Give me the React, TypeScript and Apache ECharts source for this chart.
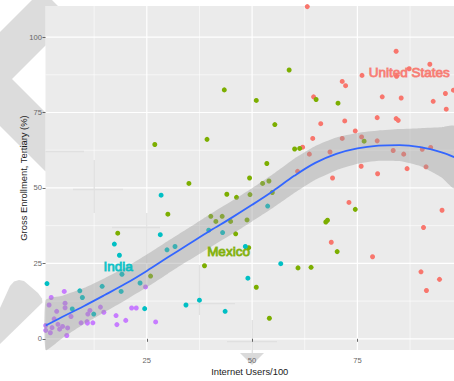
import React, { useEffect, useRef } from 'react';
import * as echarts from 'echarts';

// ---- data ----
const highIncome: [number, number][] = [
  [63.1, 110.1], [84.2, 95.3], [92.2, 91.0], [76.1, 87.3], [87.3, 89.5], [84.3, 87.0],
  [71.4, 85.3], [72.2, 83.9], [80.9, 80.2], [85.4, 79.8], [95.9, 81.3], [97.8, 82.4],
  [93.0, 78.7], [96.1, 76.1], [64.6, 80.2], [66.3, 71.3], [72.0, 72.2], [79.7, 73.3],
  [84.2, 73.0], [84.7, 72.4], [74.5, 68.9], [71.4, 66.4], [76.0, 66.9], [79.7, 65.6],
  [64.4, 66.4], [62.0, 63.5], [63.6, 61.2], [68.5, 61.9], [83.5, 62.4], [86.0, 61.2],
  [90.4, 62.8], [92.4, 63.4], [60.8, 55.5], [75.9, 57.2], [79.8, 54.7], [86.8, 56.4],
  [91.3, 57.0], [69.1, 53.3], [73.0, 45.2], [95.1, 42.6], [90.7, 36.9], [68.8, 32.0],
  [78.6, 27.2], [90.1, 22.2], [94.5, 19.7], [91.4, 16.0],
];
const upperMiddle: [number, number][] = [
  [58.8, 89.1], [43.4, 82.5], [51.0, 79.0], [65.2, 79.3], [70.4, 78.1], [55.4, 71.0],
  [39.3, 66.1], [76.6, 65.5], [26.9, 64.4], [60.1, 62.9], [61.3, 63.1], [53.5, 58.1],
  [49.4, 53.3], [35.0, 51.5], [52.5, 51.5], [54.0, 52.3], [44.0, 47.9], [46.3, 46.9],
  [49.5, 47.8], [54.8, 48.5], [40.2, 40.6], [42.9, 40.6], [41.4, 38.9], [44.9, 38.9],
  [48.8, 39.4], [46.1, 34.8], [49.2, 30.2], [30.0, 41.3], [18.1, 35.0], [74.5, 42.9],
  [67.5, 38.7], [67.9, 39.3], [70.2, 28.9], [38.7, 24.2], [60.9, 23.5], [64.0, 23.7],
  [25.9, 20.8], [51.0, 17.1], [54.1, 6.8],
];
const lowerMiddle: [number, number][] = [
  [28.4, 47.6], [53.7, 44.0], [39.7, 36.0], [43.0, 35.2], [17.3, 31.4], [28.2, 34.5],
  [48.4, 30.6], [31.7, 30.6], [29.8, 29.5], [18.5, 27.7], [56.8, 24.9], [19.1, 21.4],
  [49.0, 20.1], [23.4, 18.5], [1.3, 18.3], [14.4, 17.4], [9.1, 15.9], [18.9, 15.7],
  [9.7, 13.7], [37.5, 12.8], [34.3, 11.2], [24.5, 10.0], [7.3, 9.9], [43.6, 9.1],
  [12.4, 8.2],
];
const lowIncome: [number, number][] = [
  [24.7, 17.2], [2.3, 13.7], [5.4, 15.7], [1.8, 11.2], [5.6, 11.8], [5.6, 10.3],
  [3.6, 9.1], [7.0, 7.4], [3.0, 6.6], [3.9, 4.8], [5.0, 4.1], [2.5, 3.7], [2.1, 2.0],
  [1.0, 2.8], [6.2, 3.6], [6.0, 1.1], [4.3, 3.2], [11.5, 9.4], [11.0, 8.2], [9.4, 5.3],
  [10.8, 5.7], [10.9, 5.2], [12.2, 5.3], [14.0, 10.5], [14.8, 8.8], [17.7, 7.7],
  [17.9, 4.7], [20.0, 6.1], [21.4, 10.2], [22.5, 10.2], [27.1, 5.6], [1.0, 4.4],
];

const smoothX = [1, 5, 10, 15, 20, 25, 30, 35, 40, 45, 50, 55, 60, 65, 70, 75, 80, 85, 90, 95, 98];
const smoothY = [4.4, 7.3, 10.8, 14.5, 18.3, 22.5, 27.0, 31.4, 35.8, 40.0, 44.4, 49.0, 54.0, 58.3, 61.3, 63.1, 64.0, 64.2, 63.5, 61.8, 60.2];
const smoothHalfWidth = [8.5, 7.0, 6.0, 5.6, 5.4, 5.4, 5.4, 5.4, 5.5, 5.5, 5.5, 5.6, 5.7, 5.6, 5.4, 5.1, 5.0, 5.3, 6.3, 8.3, 10.3];

const xTicks = [25, 50, 75];
const yTicks = [0, 25, 50, 75, 100];
const xMinorGrid = [12.5, 37.5, 62.5, 87.5];
const yMinorGrid = [12.5, 37.5, 62.5, 87.5];

const countryNames = ['United States', 'Mexico', 'India'];
const countryX = [87.3, 44.4, 18.2];
const countryY = [88.4, 28.8, 23.8];
const countryGroup = [0, 1, 2];

const groupColors = ['#F8766D', '#7CAE00', '#00BFC4', '#C77CFF'];

const FONT = '"Liberation Sans", Arial, sans-serif';

export default function App() {
  const ref = useRef<HTMLDivElement>(null);

  useEffect(() => {
    document.body.style.margin = '0';
    if (!ref.current) return;
    const chart = echarts.init(ref.current, undefined, { renderer: 'svg' });

    const gridData: number[][] = [
      ...xTicks.map((v) => [v, 0, 1]),
      ...xMinorGrid.map((v) => [v, 0, 0]),
      ...yTicks.map((v) => [v, 1, 1]),
      ...yMinorGrid.map((v) => [v, 1, 0]),
    ];

    const groups = [highIncome, upperMiddle, lowerMiddle, lowIncome];

    const option: any = {
      animation: false,
      grid: {
        left: 45.5,
        top: 6,
        right: 0,
        bottom: 28,
        show: true,
        backgroundColor: '#EBEBEB',
        borderWidth: 0,
      },
      xAxis: {
        type: 'value',
        min: 0.95,
        max: 97.94,
        z: 10,
        name: 'Internet Users/100',
        nameLocation: 'middle',
        nameGap: 17,
        nameMoveOverlap: false,
        nameTextStyle: { fontFamily: FONT, fontSize: 9.4, color: '#1A1A1A' },
        axisLine: { show: false },
        splitLine: { show: false },
        axisTick: { show: true, customValues: xTicks, length: 3, lineStyle: { color: '#444', width: 0.8 } },
        axisLabel: { customValues: xTicks, fontFamily: FONT, fontSize: 7.6, color: '#666', margin: 6 },
      },
      yAxis: {
        type: 'value',
        min: -3.71,
        max: 110.3,
        z: 10,
        name: 'Gross Enrollment, Tertiary (%)',
        nameLocation: 'middle',
        nameRotate: 90,
        nameGap: 17.5,
        nameMoveOverlap: false,
        nameTextStyle: { fontFamily: FONT, fontSize: 9.4, color: '#1A1A1A' },
        axisLine: { show: false },
        splitLine: { show: false },
        axisTick: { show: true, customValues: yTicks, length: 3, lineStyle: { color: '#444', width: 0.8 } },
        axisLabel: { customValues: yTicks, fontFamily: FONT, fontSize: 7.6, color: '#666', margin: 3.5 },
      },
      graphic: {
        elements: [
          {
            type: 'polygon',
            z: 0,
            silent: true,
            shape: {
              points: [[0, 32], [32, 0], [52, 0], [58, 6], [45.5, 6], [45.5, 45.5], [12, 79], [45.5, 112.5], [45.5, 171.5], [0, 126]],
            },
            style: { fill: '#DCDCDC' },
          },
          {
            type: 'polygon',
            z: 0,
            silent: true,
            shape: {
              points: [[0, 308], [10, 286], [14, 281.5], [19, 280], [24, 281], [38, 293], [42, 298.5], [42.5, 302.5], [0, 344]],
            },
            style: { fill: '#DCDCDC' },
          },
          {
            type: 'polygon',
            z: 0,
            silent: true,
            shape: { points: [[240, 353], [264, 353], [252, 365]] },
            style: { fill: '#DADADA' },
          },
          ...[
            [45.5, 151.5, 84, 151.5],
            [94.2, 160, 94.2, 213],
            [73, 189.5, 123, 189.5],
            [146.8, 213, 146.8, 263],
            [112, 227.5, 160, 227.5],
            [199.4, 265, 199.4, 315],
            [187, 303.6, 235, 303.6],
            [252.3, 320, 252.3, 353],
            [227, 341.7, 277, 341.7],
          ].map((l) => ({
            type: 'line',
            z: 1.5,
            silent: true,
            shape: { x1: l[0], y1: l[1], x2: l[2], y2: l[3] },
            style: { stroke: '#E0E0E0', lineWidth: 1.3 },
          })),
        ],
      },
      series: [
        {
          type: 'custom',
          z: 1,
          silent: true,
          data: gridData,
          renderItem: (params: any, api: any) => {
            const v = api.value(0);
            const dir = api.value(1);
            const major = api.value(2);
            const cs = params.coordSys;
            const lw = major ? 1.2 : 0.6;
            if (dir === 0) {
              const x = api.coord([v, 0])[0];
              return { type: 'line', shape: { x1: x, y1: cs.y, x2: x, y2: cs.y + cs.height }, style: { stroke: '#FFFFFF', lineWidth: lw } };
            }
            const y = api.coord([1, v])[1];
            return { type: 'line', shape: { x1: cs.x, y1: y, x2: cs.x + cs.width, y2: y }, style: { stroke: '#FFFFFF', lineWidth: lw } };
          },
        },
        ...groups.map((g, i) => ({
          type: 'scatter',
          z: 2,
          data: g,
          symbolSize: 5,
          itemStyle: { color: groupColors[i], opacity: 1 },
          silent: true,
        })),
        {
          type: 'custom',
          z: 3,
          silent: true,
          data: [[smoothX[0], smoothY[0]]],
          renderItem: (params: any, api: any) => {
            const cs = params.coordSys;
            const upper = smoothX.map((x, i) => api.coord([x, smoothY[i] + smoothHalfWidth[i]]));
            const lower = smoothX.map((x, i) => api.coord([x, smoothY[i] - smoothHalfWidth[i]])).reverse();
            const pts = echarts.graphic.clipPointsByRect(upper.concat(lower), {
              x: cs.x, y: cs.y, width: cs.width, height: cs.height,
            } as any);
            return {
              type: 'polygon',
              shape: { points: pts, smooth: 0.15 },
              style: { fill: 'rgba(153,153,153,0.4)' },
            };
          },
        },
        {
          type: 'line',
          z: 4,
          silent: true,
          data: smoothX.map((x, i) => [x, smoothY[i]]),
          showSymbol: false,
          smooth: 0.35,
          lineStyle: { color: '#3366FF', width: 1.8 },
        },
        {
          type: 'scatter',
          z: 5,
          silent: true,
          symbolSize: 0.01,
          data: countryNames.map((n, i) => ({
            name: n,
            value: [countryX[i], countryY[i]],
            label: { color: groupColors[countryGroup[i]], textBorderColor: groupColors[countryGroup[i]] },
          })),
          label: {
            show: true,
            position: 'inside',
            formatter: (p: any) => p.name,
            fontFamily: FONT,
            fontSize: 13.5,
            textBorderWidth: 1,
          },
        },
      ],
    };

    chart.setOption(option);
    return () => chart.dispose();
  }, []);

  return <div ref={ref} style={{ width: 454, height: 381 }} />;
}
